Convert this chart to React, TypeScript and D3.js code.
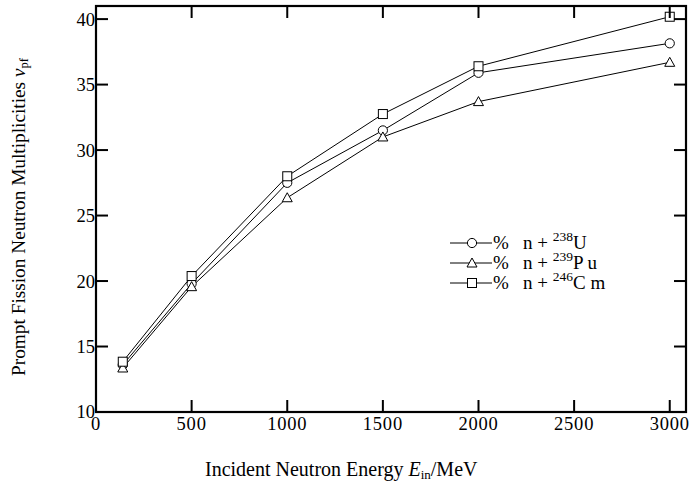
import React from "react";
import * as d3 from "d3";

const energies = [140, 500, 1000, 1500, 2000, 3000];
const seriesU = [13.6, 19.8, 27.5, 31.5, 35.9, 38.15];
const seriesPu = [13.36, 19.57, 26.36, 31.0, 33.7, 36.7];
const seriesCm = [13.84, 20.38, 28.0, 32.75, 36.4, 40.18];
const xTicks = [0, 500, 1000, 1500, 2000, 2500, 3000];
const yTicks = [10, 15, 20, 25, 30, 35, 40];
const legendMass = ["238", "239", "246"];
const legendElem = ["U", "P u", "C m"];
const markers = ["circle", "triangle", "square"];

const W = 689;
const H = 484;
const FONT = "'Liberation Serif', 'Times New Roman', serif";

export default function App() {
  const x = d3.scaleLinear().domain([0, 3085]).range([96, 686]);
  const y = d3.scaleLinear().domain([10, 41]).range([412, 6]);
  const line = d3
    .line<number>()
    .x((_, i) => x(energies[i]))
    .y((d) => y(d));
  const all = [seriesU, seriesPu, seriesCm];

  const marker = (kind: string, cx: number, cy: number, key: string) => {
    if (kind === "circle")
      return <circle key={key} cx={cx} cy={cy} r={4.6} fill="white" stroke="black" strokeWidth={1} />;
    if (kind === "square")
      return <rect key={key} x={cx - 4.5} y={cy - 4.5} width={9} height={9} fill="white" stroke="black" strokeWidth={1} />;
    const s = 5;
    return (
      <path
        key={key}
        d={`M${cx},${cy - s}L${cx + s},${cy + s * 0.8}L${cx - s},${cy + s * 0.8}Z`}
        fill="white"
        stroke="black"
        strokeWidth={1}
      />
    );
  };

  const x0 = x(0), x1 = x(3085), y0 = y(10), y1 = y(41);
  const tickLen = 12;

  return (
    <svg width={W} height={H} style={{ position: "absolute", left: 0, top: 0, background: "white" }} fontFamily={FONT}>
      <rect x={0} y={0} width={W} height={H} fill="white" />
      {all.map((s, i) => (
        <path key={"l" + i} d={line(s) || ""} fill="none" stroke="black" strokeWidth={1} />
      ))}
      {all.map((s, i) => s.map((v, j) => marker(markers[i], x(energies[j]), y(v), `m${i}-${j}`)))}
      <rect x={x0} y={y1} width={x1 - x0} height={y0 - y1} fill="none" stroke="black" strokeWidth={2.2} />
      {xTicks.map((t) => (
        <g key={"xt" + t}>
          {t > 0 && <line x1={x(t)} x2={x(t)} y1={y0} y2={y0 - tickLen} stroke="black" strokeWidth={2} />}
          {t > 0 && <line x1={x(t)} x2={x(t)} y1={y1} y2={y1 + tickLen} stroke="black" strokeWidth={2} />}
          <text x={x(t)} y={430} textAnchor="middle" fontSize={18.5} letterSpacing={0.8}>
            {t}
          </text>
        </g>
      ))}
      {yTicks.map((t) => (
        <g key={"yt" + t}>
          {t > 10 && <line x1={x0} x2={x0 + tickLen} y1={y(t)} y2={y(t)} stroke="black" strokeWidth={2} />}
          {t > 10 && <line x1={x1} x2={x1 - tickLen} y1={y(t)} y2={y(t)} stroke="black" strokeWidth={2} />}
          <text x={95} y={y(t)} dy="0.35em" textAnchor="end" fontSize={18.5}>
            {t}
          </text>
        </g>
      ))}
      {markers.map((m, i) => {
        const ly = 243 + i * 20;
        return (
          <g key={"lg" + i}>
            <line x1={450} x2={492} y1={ly} y2={ly} stroke="black" strokeWidth={1} />
            {marker(m, 472, ly, "lgm" + i)}
            <text x={493} y={ly + 6} fontSize={19}>
              %
            </text>
            <text x={523} y={ly + 6} fontSize={19} xmlSpace="preserve">
              {"n + "}
              <tspan fontSize={13.5} dy={-8}>
                {legendMass[i]}
              </tspan>
              <tspan dy={8}>{legendElem[i]}</tspan>
            </text>
          </g>
        );
      })}
      <text x={205} y={476} fontSize={20}>
        Incident Neutron Energy <tspan fontStyle="italic">E</tspan>
        <tspan fontSize={13} dy={3}>in</tspan>
        <tspan dy={-3}>/MeV</tspan>
      </text>
      <text transform="translate(25,217) rotate(-90)" textAnchor="middle" fontSize={19.3}>
        Prompt Fission Neutron Multiplicities <tspan fontStyle="italic">ν</tspan>
        <tspan fontSize={12.5} dy={3}>pf</tspan>
      </text>
    </svg>
  );
}
